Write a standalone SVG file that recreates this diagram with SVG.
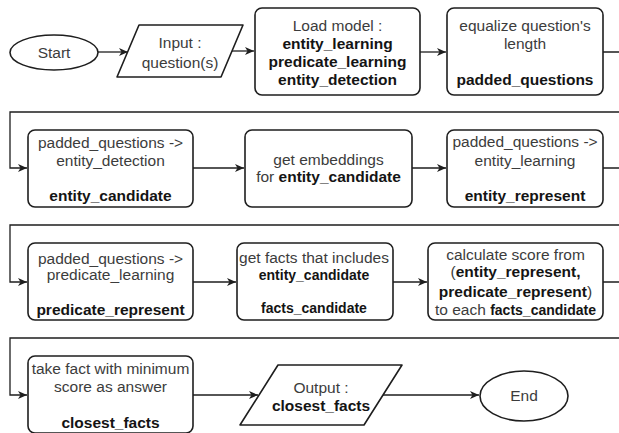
<svg xmlns="http://www.w3.org/2000/svg" width="619" height="433" viewBox="0 0 619 433">
  <style>
    .shape { fill: #ffffff; stroke: #1e1e1e; stroke-width: 1.6; }
    .edge { fill: none; stroke: #1e1e1e; stroke-width: 1.3; marker-end: url(#arrow); }
    .line { fill: none; stroke: #1e1e1e; stroke-width: 1.3; }
    text { font-family: "Liberation Sans", Arial, sans-serif; font-size: 15.5px; fill: #3c3c3c; text-anchor: middle; }
    .b { font-weight: bold; fill: #141414; }
    .sm { font-size: 14px; }
  </style>
  <defs>
    <marker id="arrow" markerUnits="userSpaceOnUse" markerWidth="10" markerHeight="8" refX="9" refY="4" orient="auto">
      <path d="M0,0 L9,4 L0,8 L2.5,4 Z" fill="#1e1e1e"/>
    </marker>
  </defs>
  <rect width="619" height="433" fill="#ffffff"/>

  <!-- connectors -->
  <g id="connectors">
    <path class="edge" d="M98,52 H128"/>
    <path class="edge" d="M232,51 H254"/>
    <path class="edge" d="M420,52 H446"/>
    <path class="edge" d="M603,52 H640 V112 H10 V168 H27"/>
    <path class="edge" d="M193,168 H244"/>
    <path class="edge" d="M412,168 H446"/>
    <path class="edge" d="M603,168 H640 V225 H10 V282 H27"/>
    <path class="edge" d="M193,282 H236"/>
    <path class="edge" d="M393,282 H427"/>
    <path class="edge" d="M603,282 H640 V338 H10 V395 H27"/>
    <path class="edge" d="M193,395 H258"/>
    <path class="edge" d="M383,395 H479"/>
  </g>

  <!-- row 1 -->
  <g id="start">
    <ellipse class="shape" cx="54" cy="52.5" rx="44" ry="17.5"/>
    <text x="54" y="58">Start</text>
  </g>
  <g id="input">
    <path class="shape" d="M139,25 H243 L221,77 H117 Z" stroke-linejoin="round"/>
    <text x="180" y="48">Input :</text>
    <text x="180" y="68">question(s)</text>
  </g>
  <g id="load-model">
    <rect class="shape" x="255" y="8" width="165" height="87" rx="7"/>
    <text x="337.5" y="31">Load model :</text>
    <text class="b" x="337.5" y="49">entity_learning</text>
    <text class="b" x="337.5" y="67">predicate_learning</text>
    <text class="b" x="337.5" y="85">entity_detection</text>
  </g>
  <g id="equalize">
    <rect class="shape" x="447" y="8" width="156" height="87" rx="7"/>
    <text x="525" y="31">equalize question's</text>
    <text x="525" y="49">length</text>
    <text class="b" x="525" y="85">padded_questions</text>
  </g>

  <!-- row 2 -->
  <g id="entity-detection">
    <rect class="shape" x="28" y="130" width="165" height="77" rx="7"/>
    <text x="110.5" y="148">padded_questions -&gt;</text>
    <text x="110.5" y="166">entity_detection</text>
    <text class="b" x="110.5" y="201">entity_candidate</text>
  </g>
  <g id="embeddings">
    <rect class="shape" x="245" y="130" width="167" height="77" rx="7"/>
    <text x="328.5" y="165">get embeddings</text>
    <text x="328.5" y="182">for <tspan class="b">entity_candidate</tspan></text>
  </g>
  <g id="entity-learning">
    <rect class="shape" x="447" y="130" width="156" height="77" rx="7"/>
    <text x="525" y="147">padded_questions -&gt;</text>
    <text x="525" y="166">entity_learning</text>
    <text class="b" x="525" y="201">entity_represent</text>
  </g>

  <!-- row 3 -->
  <g id="predicate-learning">
    <rect class="shape" x="28" y="243" width="165" height="77" rx="7"/>
    <text x="110.5" y="264">padded_questions -&gt;</text>
    <text x="110.5" y="280">predicate_learning</text>
    <text class="b" x="110.5" y="315">predicate_represent</text>
  </g>
  <g id="facts">
    <rect class="shape" x="237" y="243" width="156" height="77" rx="7"/>
    <text x="314" y="263">get facts that includes</text>
    <text class="b sm" x="314" y="280">entity_candidate</text>
    <text class="b sm" x="314" y="313">facts_candidate</text>
  </g>
  <g id="score">
    <rect class="shape" x="428" y="243" width="175" height="77" rx="7"/>
    <text x="515.5" y="260">calculate score from</text>
    <text x="515.5" y="277">(<tspan class="b">entity_represent,</tspan></text>
    <text x="515.5" y="297"><tspan class="b">predicate_represent</tspan>)</text>
    <text x="515.5" y="315">to each <tspan class="b sm">facts_candidate</tspan></text>
  </g>

  <!-- row 4 -->
  <g id="closest">
    <rect class="shape" x="28" y="356" width="165" height="77" rx="7"/>
    <text x="110.5" y="374">take fact with minimum</text>
    <text x="110.5" y="392">score as answer</text>
    <text class="b" x="110.5" y="428">closest_facts</text>
  </g>
  <g id="output">
    <path class="shape" d="M278,365 H402 L364,425 H240 Z" stroke-linejoin="round"/>
    <text x="321" y="393">Output :</text>
    <text class="b" x="321" y="411">closest_facts</text>
  </g>
  <g id="end">
    <ellipse class="shape" cx="524" cy="396" rx="44" ry="25"/>
    <text x="524" y="401">End</text>
  </g>
</svg>
